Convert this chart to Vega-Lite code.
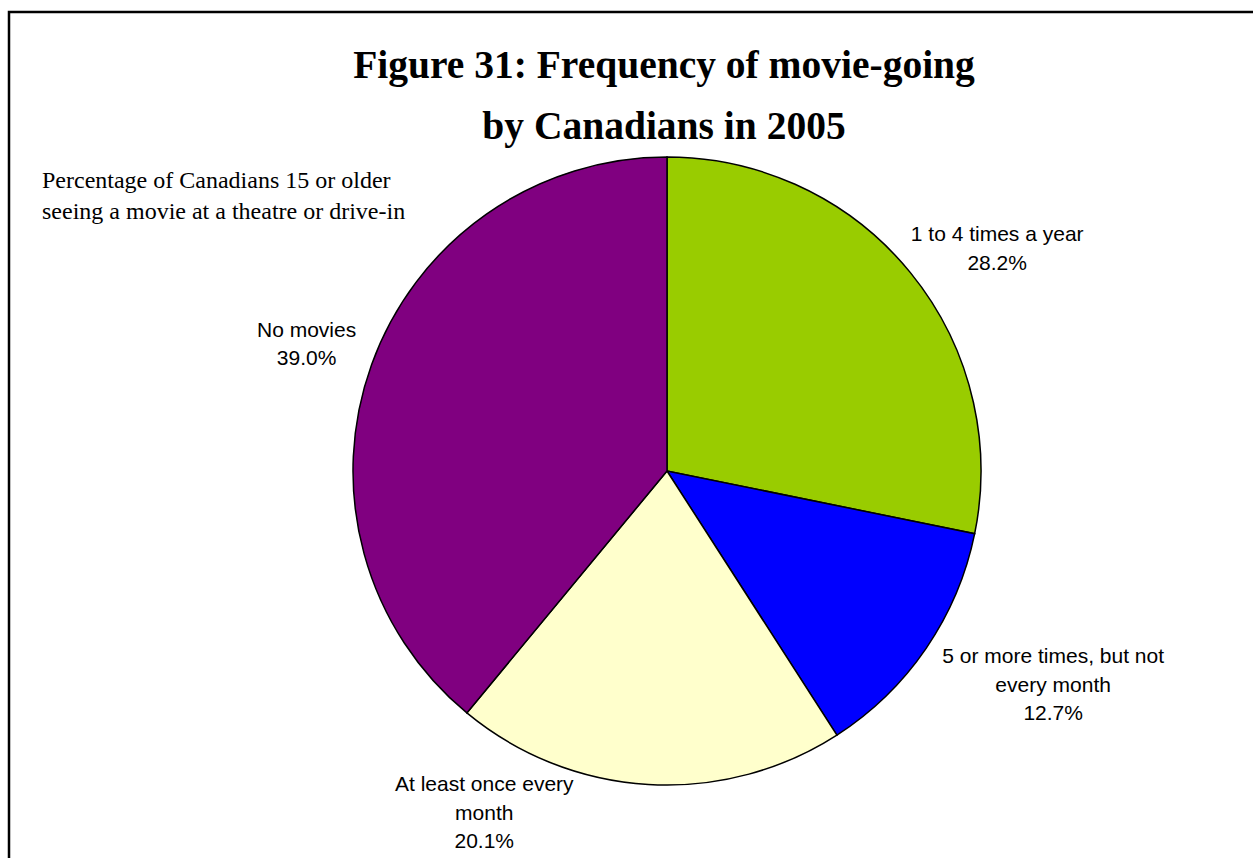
{
  "$schema": "https://vega.github.io/schema/vega-lite/v6.json",
  "padding": {"left": 7, "top": 10, "right": 0, "bottom": 0},
  "background": "white",
  "title": {
    "text": ["Figure 31: Frequency of movie-going", "by Canadians in 2005"],
    "font": "Liberation Serif",
    "fontSize": 39.5,
    "fontWeight": "bold",
    "lineHeight": 61,
    "color": "black",
    "anchor": "middle",
    "frame": "group",
    "dx": -3,
    "offset": -137
  },
  "vconcat": [
    {
      "title": {
        "text": ["Percentage of Canadians 15 or older", "seeing a movie at a theatre or drive-in"],
        "font": "Liberation Serif",
        "fontSize": 24,
        "fontWeight": "normal",
        "lineHeight": 31,
        "color": "black",
        "anchor": "start",
        "frame": "group",
        "dx": 33,
        "offset": -212
      },
      "width": 1316,
      "height": 918,
      "view": {"stroke": "black", "strokeWidth": 2.5},
      "data": {
        "values": [
          {"category": "1 to 4 times a year", "percent": 28.2, "label": "1 to 4 times a year\n28.2%"},
          {"category": "5 or more times, but not every month", "percent": 12.7, "label": "5 or more times, but not\nevery month\n12.7%"},
          {"category": "At least once every month", "percent": 20.1, "label": "At least once every\nmonth\n20.1%"},
          {"category": "No movies", "percent": 39.0, "label": "No movies\n39.0%"}
        ]
      },
      "encoding": {
        "theta": {"field": "percent", "type": "quantitative", "stack": true},
        "detail": {"field": "category", "type": "nominal"}
      },
      "layer": [
        {
          "mark": {"type": "arc", "radius": 314, "stroke": "black", "strokeWidth": 1.5},
          "encoding": {
            "color": {
              "field": "category",
              "type": "nominal",
              "scale": {
                "domain": ["1 to 4 times a year", "5 or more times, but not every month", "At least once every month", "No movies"],
                "range": ["#99CC00", "#0000FF", "#FFFFCC", "#800080"]
              },
              "legend": null
            }
          }
        },
        {
          "mark": {"type": "text", "radius": 314, "dx": 87, "dy": -37, "font": "Liberation Sans", "fontSize": 21, "lineHeight": 28.5, "lineBreak": "\n", "fill": "black", "align": "center", "baseline": "middle"},
          "encoding": {"text": {"condition": {"test": "datum.category === '1 to 4 times a year'", "field": "label"}, "value": ""}}
        },
        {
          "mark": {"type": "text", "radius": 314, "dx": 127, "dy": 9, "font": "Liberation Sans", "fontSize": 21, "lineHeight": 28.5, "lineBreak": "\n", "fill": "black", "align": "center", "baseline": "middle"},
          "encoding": {"text": {"condition": {"test": "datum.category === '5 or more times, but not every month'", "field": "label"}, "value": ""}}
        },
        {
          "mark": {"type": "text", "radius": 314, "dx": -164, "dy": 1, "font": "Liberation Sans", "fontSize": 21, "lineHeight": 28.5, "lineBreak": "\n", "fill": "black", "align": "center", "baseline": "middle"},
          "encoding": {"text": {"condition": {"test": "datum.category === 'At least once every month'", "field": "label"}, "value": ""}}
        },
        {
          "mark": {"type": "text", "radius": 314, "dx": -65, "dy": -34, "font": "Liberation Sans", "fontSize": 21, "lineHeight": 28.5, "lineBreak": "\n", "fill": "black", "align": "center", "baseline": "middle"},
          "encoding": {"text": {"condition": {"test": "datum.category === 'No movies'", "field": "label"}, "value": ""}}
        }
      ]
    }
  ],
  "config": {
    "view": {"stroke": "black", "strokeWidth": 2.5},
    "style": {"view": {"stroke": "black", "strokeWidth": 2.5}},
    "concat": {"spacing": 0}
  }
}
